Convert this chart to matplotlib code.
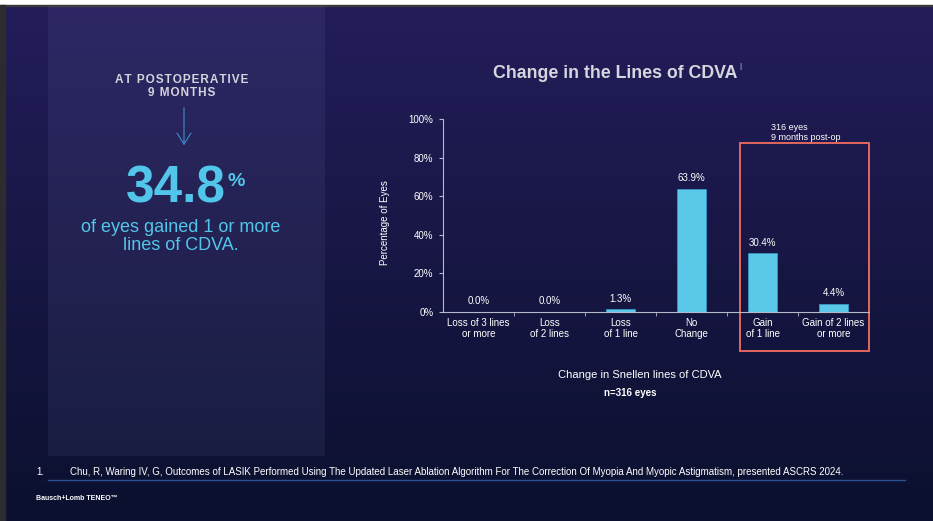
import numpy as np
from matplotlib import pyplot as plt
from matplotlib.patches import Rectangle

plt.rcParams['font.family'] = ['Liberation Sans', 'DejaVu Sans']

categories = ['Loss of 3 lines\nor more', 'Loss\nof 2 lines', 'Loss\nof 1 line',
              'No\nChange', 'Gain\nof 1 line', 'Gain of 2 lines\nor more']
percent_eyes = [0.0, 0.0, 1.3, 63.9, 30.4, 4.4]
y_ticks = [0, 20, 40, 60, 80, 100]

W, H = 933, 521
fig = plt.figure(figsize=(W / 100, H / 100), dpi=100)
fig.patch.set_facecolor('white')

# slide background, drawn in pixel coords from the top-left corner
bg = fig.add_axes([0, 0, 1, 1])
bg.set_xlim(0, W)
bg.set_ylim(H, 0)
bg.axis('off')
top = np.array([0x23, 0x1d, 0x5a]) / 255
bottom = np.array([0x0b, 0x10, 0x2e]) / 255
t = np.linspace(0, 1, 256)[:, None]
grad = top * (1 - t) + bottom * t
bg.imshow(grad[:, None, :], extent=[5, W, H, 6], aspect='auto', zorder=0)
bg.add_patch(Rectangle((0, 0), W, 5, color='white', zorder=1))
bg.add_patch(Rectangle((0, 5), W, 1.2, color='#3a3a3a', zorder=1))
bg.add_patch(Rectangle((0, 5), 5, H, color='#2b2b30', zorder=1))

# lighter left panel
bg.add_patch(Rectangle((48, 6), 277, 450, color='#b8c0ff', alpha=0.07, lw=0, zorder=1))

# left panel callout
txt = '#d4d4de'
cyan = '#52c6ea'
spaced = '\u200a'.join('AT POSTOPERATIVE')
bg.text(182, 80, spaced, color=txt, fontsize=8.5, fontweight='bold', ha='center', va='center')
bg.text(182, 93, '\u200a'.join('9 MONTHS'), color=txt, fontsize=8.5, fontweight='bold',
        ha='center', va='center')
bg.annotate('', xy=(184, 148), xytext=(184, 105),
            arrowprops=dict(arrowstyle='->,head_length=0.8,head_width=0.5', color='#3d8ccc', lw=0.8))
bg.text(226, 189, '34.8', color=cyan, fontsize=37, fontweight='bold', ha='right', va='center')
bg.text(227, 182, '%', color=cyan, fontsize=14, fontweight='bold', ha='left', va='center')
bg.text(181, 227, 'of eyes gained 1 or more', color=cyan, fontsize=13, ha='center', va='center')
bg.text(181, 246, 'lines of CDVA.', color=cyan, fontsize=13, ha='center', va='center')

# chart title
bg.text(615, 73, 'Change in the Lines of CDVA', color='#d6d6de', fontsize=12.8,
        fontweight='bold', ha='center', va='center')
bg.text(739, 66, '|', color='#d6d6de', fontsize=6, ha='left', va='center')

# bar chart
ax = fig.add_axes([443 / W, 1 - 312 / H, 426 / W, 193 / H])
ax.set_facecolor('none')
x = np.arange(len(categories))
ax.bar(x, percent_eyes, width=0.4, color='#5ac8e8', edgecolor='#3a9fcc', lw=0.5)
for xi, v in zip(x, percent_eyes):
    ax.text(xi, v + 3, f'{v:.1f}%', color='white', fontsize=7, ha='center', va='bottom')

ax.set_xlim(-0.5, len(categories) - 0.5)
ax.set_ylim(0, 100)
ax.set_yticks(y_ticks)
ax.set_yticklabels([f'{v}%' for v in y_ticks])
ax.set_xticks(x)
ax.set_xticklabels(categories)
ax.set_xticks(x[:-1] + 0.5, minor=True)
ax.tick_params(axis='x', which='major', length=0, pad=4, labelsize=7, colors='white')
ax.tick_params(axis='x', which='minor', length=3, color='#b8b8c8')
ax.tick_params(axis='y', length=3, color='#b8b8c8', labelsize=7, labelcolor='white', pad=4)
for side in ['top', 'right']:
    ax.spines[side].set_visible(False)
for side in ['left', 'bottom']:
    ax.spines[side].set_color('#b8b8c8')
    ax.spines[side].set_linewidth(0.8)
bg.text(385, 223, 'Percentage of Eyes', color='white', fontsize=7, rotation=90,
        ha='center', va='center')

# highlight box around the gains
bg.add_patch(Rectangle((740, 143), 129, 208, fill=False, ec='#e4675f', lw=1.4, zorder=5))
bg.text(771, 127, '316 eyes', color='white', fontsize=6.5, ha='left', va='center')
bg.text(771, 138, '9 months post-op', color='white', fontsize=6.5, ha='left', va='center')

bg.text(640, 375, 'Change in Snellen lines of CDVA', color='white', fontsize=8, ha='center', va='center')
bg.text(630, 393, 'n=316 eyes', color='white', fontsize=7, fontweight='bold', ha='center', va='center')

# footnote and branding
note_font = ['Liberation Sans Narrow', 'Liberation Sans']
bg.text(36, 472, '1.', color='white', fontsize=7, family=note_font, ha='left', va='center')
bg.text(70, 472, 'Chu, R, Waring IV, G, Outcomes of LASIK Performed Using The Updated Laser Ablation '
        'Algorithm For The Correction Of Myopia And Myopic Astigmatism, presented ASCRS 2024.',
        color='white', fontsize=7, family=note_font, ha='left', va='center')
bg.plot([48, 905], [480, 480], color='#2c4f90', lw=1, zorder=2)
bg.text(36, 498, 'Bausch+Lomb TENEO\u2122', color='white', fontsize=5, fontweight='bold',
        ha='left', va='center')

fig.savefig('out.png', dpi=100)
